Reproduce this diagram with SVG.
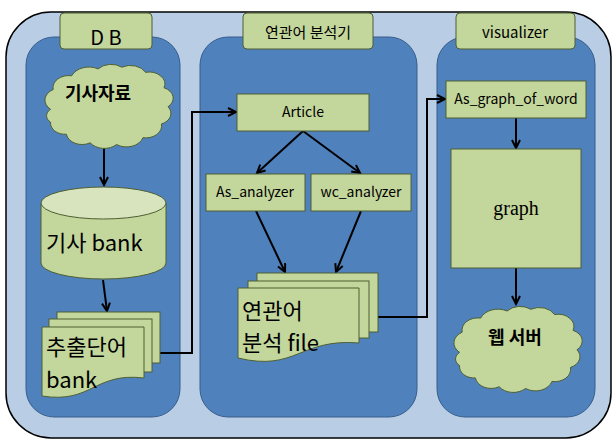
<svg xmlns="http://www.w3.org/2000/svg" xmlns:xlink="http://www.w3.org/1999/xlink" width="612" height="444" viewBox="0 0 612 444" font-family="'Noto Sans CJK KR', 'Noto Sans', sans-serif">
<style>
  .outer { fill: #b9cde5; stroke: #000; stroke-width: 1.5; }
  .panel { fill: #4f81bd; stroke: #385d8a; stroke-width: 1; }
  .node { fill: #c3d69b; stroke: #4f5f32; stroke-width: 1; }
  .light { fill: #d7e4bd; stroke: #4f5f32; stroke-width: 1; }
  .cloud { fill: #c3d69b; stroke: #4f5f32; stroke-width: 1; vector-effect: non-scaling-stroke; }
  .conn { fill: none; stroke: #000; stroke-width: 2; }
  .c { text-anchor: middle; dominant-baseline: central; }
  .tab { font-size: 15px; }
  .box { font-size: 14px; }
  .big { font-size: 22px; }
  .cl { font-size: 18px; font-weight: bold; }
  .serif { font-family: "Liberation Serif", "Times New Roman", serif; font-size: 20px; }
</style>
<defs>
  <marker id="arr" markerWidth="12" markerHeight="12" refX="9" refY="5" orient="auto" markerUnits="userSpaceOnUse">
    <path d="M1,1 L9,5 L1,9" fill="none" stroke="#000" stroke-width="2"/>
  </marker>
  <path id="cloudShape" class="cloud" d="M 8,55 A 12,14 0 0 1 10,32 A 12,14 0 0 1 24,16 A 14,16 0 0 1 44,8 A 13,15 0 0 1 62,6 A 13,15 0 0 1 80,12 A 12,14 0 0 1 94,30 A 11,13 0 0 1 97,52 A 11,13 0 0 1 92,72 A 12,14 0 0 1 78,88 A 13,15 0 0 1 58,96 A 13,15 0 0 1 38,94 A 12,14 0 0 1 20,84 A 11,13 0 0 1 8,70 A 9,10 0 0 1 8,55 Z"/>
</defs>

<rect class="outer" x="6" y="12" width="605" height="426" rx="45"/>

<g id="panel-db">
  <rect class="panel" x="26" y="37" width="154" height="380" rx="28"/>
  <rect class="node" x="60" y="13" width="92" height="36" rx="4"/>
  <text class="c" x="106" y="36" font-size="20">D B</text>
</g>
<g id="panel-analyzer">
  <rect class="panel" x="200" y="37" width="217" height="380" rx="28"/>
  <rect class="node" x="243" y="13" width="130" height="36" rx="4"/>
  <text class="c tab" x="308" y="31">연관어 분석기</text>
</g>
<g id="panel-visualizer">
  <rect class="panel" x="437" y="37" width="158" height="380" rx="28"/>
  <rect class="node" x="456" y="13" width="119" height="36" rx="4"/>
  <text class="c tab" x="515" y="31">visualizer</text>
</g>

<g id="connectors">
  <line class="conn" x1="104" y1="148" x2="104" y2="185" marker-end="url(#arr)"/>
  <line class="conn" x1="103" y1="280" x2="107" y2="311" marker-end="url(#arr)"/>
  <polyline class="conn" points="160,353 192,353 192,112 236,112" marker-end="url(#arr)"/>
  <line class="conn" x1="303" y1="131" x2="257" y2="173" marker-end="url(#arr)"/>
  <line class="conn" x1="303" y1="131" x2="360" y2="173" marker-end="url(#arr)"/>
  <line class="conn" x1="256" y1="211" x2="285" y2="272" marker-end="url(#arr)"/>
  <line class="conn" x1="361" y1="211" x2="336" y2="272" marker-end="url(#arr)"/>
  <polyline class="conn" points="378,317 427,317 427,99 445,99" marker-end="url(#arr)"/>
  <line class="conn" x1="516" y1="118" x2="516" y2="148" marker-end="url(#arr)"/>
  <line class="conn" x1="516" y1="268" x2="516" y2="304" marker-end="url(#arr)"/>
</g>

<g id="node-article-source">
  <use xlink:href="#cloudShape" transform="translate(40,62) scale(1.32,0.86)"/>
  <text class="c cl" x="98" y="92">기사자료</text>
</g>

<g id="node-article-bank">
  <path class="node" d="M41,203 V263 A62.5,16 0 0 0 166,263 V203 Z"/>
  <ellipse class="light" cx="103.5" cy="203" rx="62.5" ry="16"/>
  <text class="big" x="46" y="251">기사 bank</text>
</g>

<g id="node-word-bank">
  <rect class="node" x="57" y="312" width="103" height="51"/>
  <rect class="node" x="49" y="319" width="103" height="53"/>
  <path class="node" d="M42,327 H144 V378 C94,372 92,404 42,396 Z"/>
  <text class="big" x="46" y="355">추출단어</text>
  <text class="big" x="46" y="388">bank</text>
</g>

<g id="node-article">
  <rect class="node" x="237" y="94" width="132" height="37"/>
  <text class="c box" x="303" y="111">Article</text>
</g>
<g id="node-as-analyzer">
  <rect class="node" x="206" y="174" width="99" height="37"/>
  <text class="c box" x="255" y="191">As_analyzer</text>
</g>
<g id="node-wc-analyzer">
  <rect class="node" x="311" y="174" width="100" height="37"/>
  <text class="c box" x="361" y="191">wc_analyzer</text>
</g>

<g id="node-analysis-file">
  <rect class="node" x="257" y="273" width="121" height="59"/>
  <rect class="node" x="248" y="281" width="121" height="57"/>
  <path class="node" d="M238,288 H359 V343 C300,338 296,372 238,358 Z"/>
  <text class="big" x="242" y="319">연관어</text>
  <text class="big" x="242" y="351">분석 file</text>
</g>

<g id="node-as-graph">
  <rect class="node" x="446" y="81" width="140" height="37"/>
  <text class="c box" x="516" y="98">As_graph_of_word</text>
</g>
<g id="node-graph">
  <rect class="node" x="451" y="149" width="130" height="119"/>
  <text class="c serif" x="516" y="208">graph</text>
</g>

<g id="node-web-server">
  <use xlink:href="#cloudShape" transform="translate(449,304) scale(1.32,0.88)"/>
  <text class="c cl" x="515" y="336">웹 서버</text>
</g>
</svg>
